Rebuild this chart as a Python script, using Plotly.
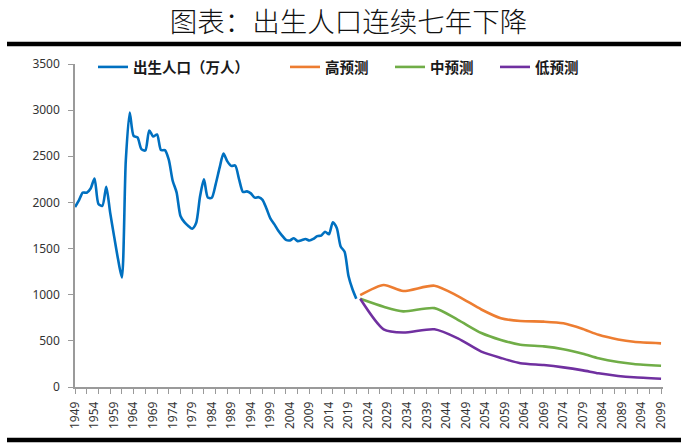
import plotly.graph_objects as go

# ---------------- data ----------------
hist_years = list(range(1949, 2023))
births = [1950, 2023, 2107, 2105, 2151, 2260, 1984, 1963, 2169, 1889,
          1635, 1389, 1187, 2451, 2975, 2721, 2704, 2577, 2563, 2780,
          2715, 2736, 2567, 2566, 2463, 2235, 2109, 1853, 1786, 1745,
          1715, 1776, 2064, 2250, 2052, 2050, 2196, 2374, 2530, 2445,
          2396, 2400, 2250, 2113, 2120, 2098, 2052, 2057, 2028, 1934,
          1827, 1765, 1696, 1641, 1594, 1588, 1612, 1581, 1591, 1604,
          1587, 1604, 1635, 1640, 1683, 1655, 1786, 1723, 1523, 1465,
          1202, 1062, 956]

proj_years = [2022, 2028, 2033, 2041, 2047, 2053, 2058, 2063, 2069, 2074,
              2079, 2083, 2088, 2092, 2099]
high_proj = [995, 1105, 1040, 1098, 985, 840, 745, 715, 708, 690,
             628, 565, 515, 490, 473]
mid_proj = [956, 870, 820, 855, 728, 585, 510, 458, 440, 410,
            360, 311, 270, 249, 231]
low_proj = [956, 625, 590, 625, 527, 383, 315, 258, 238, 213,
            180, 148, 120, 105, 90]

tick_years = list(range(1949, 2100, 5))
tick_labels = [str(y) for y in tick_years]
y_ticks = list(range(0, 3501, 500))

series_names = ["出生人口（万人）", "高预测", "中预测", "低预测"]
colors = ["#0070C0", "#ED7D31", "#70AD47", "#7030A0"]
title_text = "图表：出生人口连续七年下降"

# ---------------- figure ----------------
L, R, T, B = 75, 23, 64, 61
W, H = 686, 448
PW, PH = W - L - R, H - T - B


def px_x(px):
    return (px - L) / PW


def px_y(py):
    return (H - B - py) / PH


fig = go.Figure()
data = [(hist_years, births), (proj_years, high_proj),
        (proj_years, mid_proj), (proj_years, low_proj)]
legend_ids = ["legend", "legend2", "legend3", "legend4"]
for i, (xs, ys) in enumerate(data):
    fig.add_trace(go.Scatter(
        x=xs, y=ys, mode="lines", name=series_names[i],
        line=dict(color=colors[i], width=2.6, shape="spline", smoothing=0.7),
        legend=legend_ids[i]))

legend_font = dict(family="Noto Sans CJK SC", size=14.5, color="#1a1a1a", weight="bold")
legend_starts = [98, 290, 395, 500]
leg_layout = {}
for lid, sx in zip(legend_ids, legend_starts):
    leg_layout[lid] = dict(x=px_x(sx - 5), y=px_y(67), xanchor="left", yanchor="middle",
                           orientation="h", font=legend_font,
                           bgcolor="rgba(0,0,0,0)", borderwidth=0)

axis_gray = "#9a9a9a"
tick_font = dict(family="Noto Sans", size=12, color="#333333")

rules = [dict(type="line", xref="paper", yref="paper",
              x0=px_x(7), x1=px_x(681), y0=px_y(py), y1=px_y(py),
              line=dict(color="black", width=4.5), layer="above")
         for py in (44, 440)]

fig.update_layout(
    width=W, height=H, autosize=False,
    margin=dict(l=L, r=R, t=T, b=B),
    paper_bgcolor="white", plot_bgcolor="white",
    showlegend=True,
    shapes=rules,
    title=dict(text=title_text, x=0.508, xref="container", xanchor="center",
               y=1 - 22 / H, yref="container", yanchor="middle",
               font=dict(family="Noto Sans CJK SC", size=27.5, color="#111111", weight=300)),
    xaxis=dict(range=[1949, 2099.5], tickmode="array", tickvals=tick_years,
               ticktext=tick_labels, tickangle=-90, ticks="", showgrid=False,
               zeroline=False, showline=True, linecolor=axis_gray, linewidth=1.5,
               tickfont=tick_font, ticklabelstandoff=8,
               minor=dict(ticks="outside", tick0=1949, dtick=3, ticklen=5,
                          tickcolor=axis_gray, tickwidth=1.2, showgrid=False)),
    yaxis=dict(range=[0, 3500], tickmode="array", tickvals=y_ticks,
               ticks="outside", ticklen=5, tickcolor=axis_gray, tickwidth=1.2,
               showgrid=False, zeroline=False, showline=True, linecolor=axis_gray,
               linewidth=1.5, tickfont=tick_font, ticklabelstandoff=6),
    **leg_layout,
)

fig.write_html("out.html", config={"displayModeBar": False},
               post_script="document.body.style.margin='0';document.body.style.overflow='hidden';")
